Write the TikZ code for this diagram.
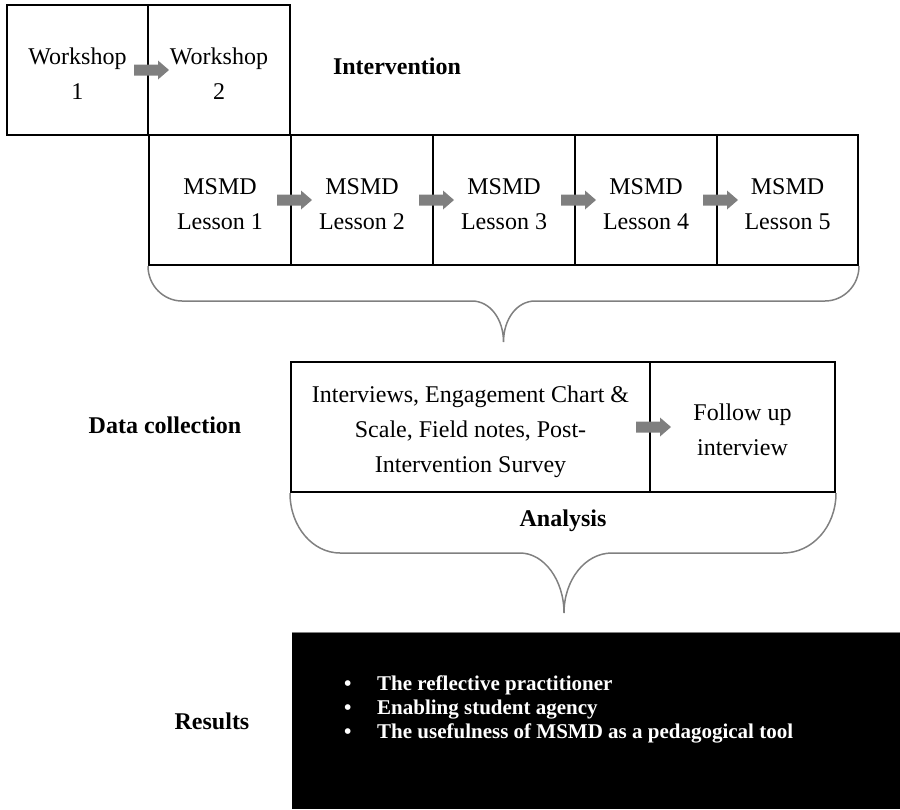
\documentclass[tikz,border=0pt]{standalone}
\usepackage{fontspec}
\setmainfont{Liberation Serif}
\usetikzlibrary{calc}
\definecolor{arrowgray}{HTML}{7F7F7F}
\definecolor{bracegray}{HTML}{808080}
\tikzset{
  box/.style={draw=black, line width=2pt, minimum height=130pt, inner sep=0pt},
  boxtext/.style={align=center, font=\fontsize{24}{35}\selectfont, inner sep=0pt},
  lbl/.style={font=\fontsize{24}{29}\selectfont\bfseries, inner sep=0pt},
  bulletline/.style={font=\fontsize{21}{24}\selectfont\bfseries, text=white, inner sep=0pt, anchor=base west},
  brace/.style={draw=bracegray, line width=1.5pt},
  blockarrow/.style={fill=arrowgray},
}
\newcommand\grayarrow[1]{\fill[blockarrow] ($(#1)+(-15,-5.5)$) -- ++(24,0) -- ++(0,-4) -- ++(11,9.5) -- ++(-11,9.5) -- ++(0,-4) -- ++(-24,0) -- cycle;}
\begin{document}
\begin{tikzpicture}[x=1pt,y=-1pt]
\useasboundingbox (0,0) rectangle (900,809);

% Workshops
\node[box, minimum width=141pt] (w1) at (77.5,70) {};
\node[box, minimum width=142pt] (w2) at (219,70) {};
\node[boxtext] (w1t) at ([yshift=-4pt]w1.center) {Workshop\\1};
\node[boxtext] (w2t) at ([yshift=-4pt]w2.center) {Workshop\\2};
\grayarrow{w1.east}

\node[lbl] (interv) at (397,66) {Intervention};

% Lessons
\node[box, minimum width=142pt] (l1) at (220,200) {};
\node[box, minimum width=142pt] (l2) at (362,200) {};
\node[box, minimum width=142pt] (l3) at (504,200) {};
\node[box, minimum width=142pt] (l4) at (646,200) {};
\node[box, minimum width=141pt] (l5) at (787.5,200) {};
\foreach \i in {1,...,5}{
  \node[boxtext] (l\i t) at ([yshift=-4pt]l\i.center) {MSMD\\Lesson \i};
}
\grayarrow{l1.east}
\grayarrow{l2.east}
\grayarrow{l3.east}
\grayarrow{l4.east}

% Brace under lessons
\coordinate (tip1) at (503.5,342);
\draw[brace] (l1.south west) .. controls +(0,20) and +(-18,0) .. (182,301)
  -- (472,301) .. controls +(18,0) and +(0,-23) .. (tip1)
  .. controls +(0,-23) and +(-18,0) .. (535,301)
  -- (825,301) .. controls +(18,0) and +(0,20) .. (l5.south east);

% Data collection
\node[lbl] (dclbl) at (165,425) {Data collection};
\node[box, minimum width=359pt] (d1) at (470.5,427) {};
\node[box, minimum width=185pt] (d2) at (742.5,427) {};
\node[boxtext] (d1t) at ([yshift=-5pt]d1.center) {Interviews, Engagement Chart \&\\Scale, Field notes, Post-\\Intervention Survey};
\node[boxtext] (d2t) at ([yshift=-3pt]d2.center) {Follow up\\interview};
\grayarrow{d1.east}

% Analysis brace
\coordinate (tip2) at (564,613);
\draw[brace] (d1.south west) .. controls +(0,34) and +(-27,0) .. (340,553)
  -- (520,553) .. controls +(24,0) and +(0,-33) .. (tip2)
  .. controls +(0,-33) and +(-27,0) .. (612,553)
  -- (783,553) .. controls +(29,0) and +(0,34) .. (d2.south east);
\node[lbl] (anl) at (563,521) {Analysis};

% Results
\node[lbl] (reslbl) at (212,721) {Results};
\node[fill=black, minimum width=608pt, minimum height=176pt, inner sep=0pt] (res) at (596,721) {};
\draw[bracegray, line width=1pt] (res.north west) -- (res.north east);
\node[bulletline] (r1) at (344,690) {\makebox[33pt][l]{\textbullet}The reflective practitioner};
\node[bulletline] (r2) at (344,714) {\makebox[33pt][l]{\textbullet}Enabling student agency};
\node[bulletline] (r3) at (344,738) {\makebox[33pt][l]{\textbullet}The usefulness of MSMD as a pedagogical tool};
\end{tikzpicture}
\end{document}
